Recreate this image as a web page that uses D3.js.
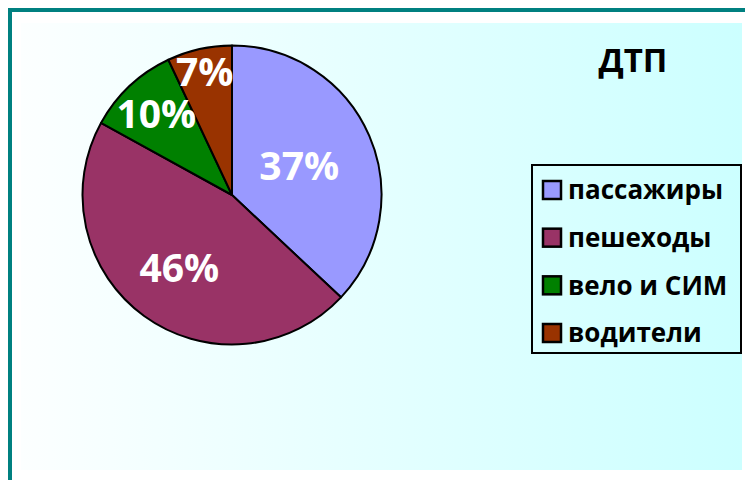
<!DOCTYPE html>
<html>
<head>
<meta charset="utf-8">
<script src="https://cdn.jsdelivr.net/npm/d3@7"></script>
<style>
  body { margin: 0; background: #fff; }
  svg { display: block; font-family: "Open Sans", "Noto Sans", sans-serif; }
</style>
</head>
<body>
<div id="canvas"></div>
<script>
const categories = ["пассажиры", "пешеходы", "вело и СИМ", "водители"];
const values = [37, 46, 10, 7];
const labels = ["37%", "46%", "10%", "7%"];
const colors = ["#9999ff", "#993366", "#008000", "#993300"];
// where each label sits, as a fraction of the radius
const labelRadius = [0.49, 0.6, 0.74, 0.84];
const title = "ДТП";

const w = 745;
const h = 480;

const svg = d3.select("#canvas")
  .append("svg")
  .attr("width", w)
  .attr("height", h);

const defs = svg.append("defs");
const grad = defs.append("linearGradient")
  .attr("id", "bg")
  .attr("x1", "0%").attr("x2", "100%")
  .attr("y1", "0%").attr("y2", "0%");
grad.append("stop").attr("offset", "0%").attr("stop-color", "#fcffff");
grad.append("stop").attr("offset", "100%").attr("stop-color", "#ccffff");

// teal frame (only top and left show inside the window)
svg.append("rect")
  .attr("x", 10).attr("y", 10)
  .attr("width", w).attr("height", h)
  .attr("fill", "#fff")
  .attr("stroke", "#008080")
  .attr("stroke-width", 4);

svg.append("rect")
  .attr("x", 21).attr("y", 23)
  .attr("width", 721).attr("height", 447)
  .attr("fill", "url(#bg)");

// pie
const cx = 232, cy = 195, r = 149.5;
const pie = d3.pie().sort(null).value(d => d);
const arcs = pie(values);
const arc = d3.arc().innerRadius(0).outerRadius(r);

const g = svg.append("g").attr("transform", `translate(${cx},${cy})`);

g.selectAll("path")
  .data(arcs)
  .enter()
    .append("path")
    .attr("d", arc)
    .attr("fill", (d, i) => colors[i])
    .attr("stroke", "#000")
    .attr("stroke-width", 2)
    .attr("stroke-linejoin", "round");

g.selectAll("text")
  .data(arcs)
  .enter()
    .append("text")
    .attr("transform", (d, i) => {
      const a = d3.arc().innerRadius(r * labelRadius[i]).outerRadius(r * labelRadius[i]);
      const c = a.centroid(d);
      return `translate(${c[0]},${c[1]})`;
    })
    .attr("text-anchor", "middle")
    .attr("dy", "0.36em")
    .attr("fill", "#fff")
    .attr("font-weight", "bold")
    .attr("font-size", 39)
    .text((d, i) => labels[i]);

// title
svg.append("text")
  .attr("x", 633).attr("y", 72)
  .attr("text-anchor", "middle")
  .attr("font-weight", "bold")
  .attr("font-size", 33)
  .attr("fill", "#000")
  .text(title);

// legend
const lg = svg.append("g").attr("transform", "translate(532,165)");
lg.append("rect")
  .attr("width", 209).attr("height", 188)
  .attr("fill", "none")
  .attr("stroke", "#000")
  .attr("stroke-width", 2);

const rowY = d3.scalePoint()
  .domain(categories)
  .range([25, 168]);

const item = lg.selectAll(".item")
  .data(categories)
  .enter()
    .append("g")
    .classed("item", true)
    .attr("transform", d => `translate(0,${rowY(d)})`);

item.append("rect")
  .attr("x", 11).attr("y", -9)
  .attr("width", 18).attr("height", 18)
  .attr("fill", (d, i) => colors[i])
  .attr("stroke", "#000")
  .attr("stroke-width", 2.5);

item.append("text")
  .attr("x", 36)
  .attr("dy", "0.36em")
  .attr("font-weight", "bold")
  .attr("font-size", 26)
  .attr("fill", "#000")
  .text(d => d);
</script>
</body>
</html>
